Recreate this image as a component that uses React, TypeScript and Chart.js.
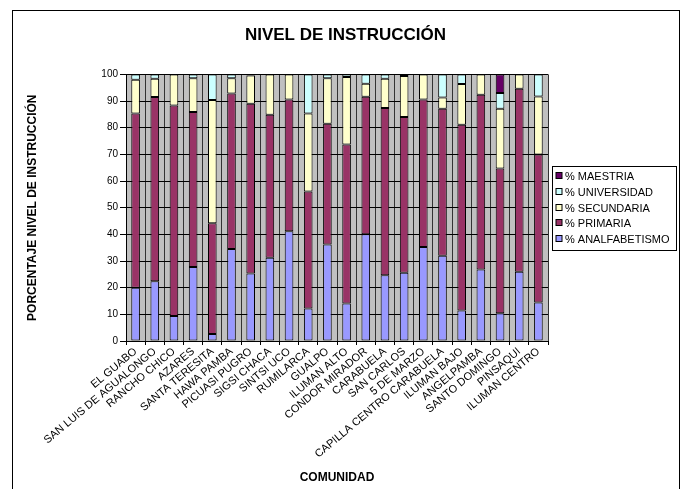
import { useEffect, useRef } from 'react';
import { Chart, registerables } from 'chart.js';

Chart.register(...registerables);

const FONT = "'Liberation Sans', Arial, Helvetica, sans-serif";

const categories = [
  'EL GUABO', 'SAN LUIS DE AGUALONGO', 'RANCHO CHICO', 'AZARES', 'SANTA TERESITA',
  'HAWA PAMBA', 'PICUASI PUGRO', 'SIGSI CHACA', 'SINTSI UCO', 'RUMILARCA', 'GUALPO',
  'ILUMAN ALTO', 'CONDOR MIRADOR', 'CARABUELA', 'SAN CARLOS', '5 DE MARZO',
  'CAPILLA CENTRO CARABUELA', 'ILUMAN BAJO', 'ANGELPAMBA', 'SANTO DOMINGO', 'PINSAQUI',
  'ILUMAN CENTRO',
];

const analfabetismo = [20, 22.4, 9.4, 27.8, 2.6, 34.5, 25.3, 31.2, 41.2, 12.2, 36.2, 14.1, 40, 24.7, 25.6, 35.3, 32, 11.4, 26.8, 10.4, 26, 14.4];
const primaria = [65.3, 69.1, 78.9, 58.1, 41.6, 58.3, 63.7, 53.7, 49.4, 43.9, 45.3, 59.6, 51.6, 62.7, 58.4, 55.3, 55.1, 69.7, 65.6, 54.3, 68.6, 55.6];
const secundaria = [12.7, 6.9, 11.7, 12.7, 46.2, 5.8, 10.6, 15.1, 9.4, 29.2, 17.1, 25.3, 4.9, 11, 15.4, 9.4, 4.2, 15.3, 7.6, 22.4, 5.4, 21.7];
const universidad = [2, 1.6, null, 1.4, 9.6, 1.4, 0.4, null, null, 14.7, 1.4, 1, 3.5, 1.6, 0.6, null, 8.7, 3.6, null, 5.9, null, 8.3];
const maestria = [null, null, null, null, null, null, null, null, null, null, null, null, null, null, null, null, null, null, null, 7, null, null];

const seriesNames = ['% ANALFABETISMO', '% PRIMARIA', '% SECUNDARIA', '% UNIVERSIDAD', '% MAESTRIA'];
const seriesColors = ['#9999FF', '#993366', '#FFFFCC', '#CCFFFF', '#660066'];
const seriesValues = [analfabetismo, primaria, secundaria, universidad, maestria];

const yMin = 0;
const yMax = 100;
const yStep = 10;

const framePlugin = {
  id: 'framePlugin',
  beforeDraw(chart: any) {
    const { ctx, chartArea } = chart;
    const { left, top, right, bottom } = chartArea;
    ctx.save();
    ctx.fillStyle = '#C0C0C0';
    ctx.fillRect(left, top, right - left, bottom - top);
    ctx.restore();
  },
  afterDraw(chart: any) {
    const { ctx, chartArea } = chart;
    ctx.save();
    // outer chart frame
    ctx.strokeStyle = '#000';
    ctx.lineWidth = 1;
    ctx.strokeRect(12.5, 10.5, chart.width - 16, chart.height + 20);

    // legend (reverse order, boxed)
    const ds = chart.data.datasets.slice().reverse();
    const rowH = 15.75;
    const boxLeft = Math.round(chartArea.right) + 4.5;
    const boxW = 124;
    const boxH = 84;
    const cy = (chartArea.top + chartArea.bottom) / 2;
    const boxTop = Math.round(cy - boxH / 2) + 0.5;
    ctx.fillStyle = '#fff';
    ctx.fillRect(boxLeft, boxTop, boxW, boxH);
    ctx.strokeStyle = '#000';
    ctx.strokeRect(boxLeft, boxTop, boxW, boxH);
    const firstY = cy - rowH * (ds.length - 1) / 2;
    ctx.font = `11px ${FONT}`;
    ctx.textBaseline = 'middle';
    ctx.textAlign = 'left';
    ds.forEach((d: any, i: number) => {
      const y = Math.round(firstY + i * rowH);
      ctx.fillStyle = d.backgroundColor;
      ctx.fillRect(boxLeft + 3.5, y - 3.5, 6, 6);
      ctx.strokeStyle = '#000';
      ctx.strokeRect(boxLeft + 3.5, y - 3.5, 6, 6);
      ctx.fillStyle = '#000';
      ctx.fillText(d.label, boxLeft + 12.5, y + 0.5);
    });
    ctx.restore();
  },
};

export default function App() {
  const ref = useRef<HTMLCanvasElement | null>(null);

  useEffect(() => {
    if (!ref.current) return;
    const chart = new Chart(ref.current, {
      type: 'bar',
      data: {
        labels: categories,
        datasets: seriesNames.map((name, i) => ({
          label: name,
          data: seriesValues[i] as any,
          backgroundColor: seriesColors[i],
          borderColor: '#000',
          borderWidth: 1,
          borderSkipped: false,
          barPercentage: 0.45,
          categoryPercentage: 1,
        })),
      },
      options: {
        responsive: false,
        animation: false,
        layout: { padding: { left: 8, right: 0, top: 0, bottom: 0 } },
        plugins: {
          legend: { display: false },
          tooltip: { enabled: false },
          title: {
            display: true,
            text: 'NIVEL DE INSTRUCCIÓN',
            color: '#000',
            font: { family: FONT, size: 17, weight: 'bold' },
            padding: { top: 25, bottom: 29 },
          },
        },
        scales: {
          x: {
            stacked: true,
            grid: { offset: true, color: '#333', lineWidth: 1, drawTicks: true, tickLength: 4, tickColor: '#000' },
            border: { color: '#000', width: 1 },
            ticks: {
              autoSkip: false,
              maxRotation: 40,
              minRotation: 40,
              padding: 0,
              color: '#000',
              font: { family: FONT, size: 11 },
            },
            title: {
              display: true,
              text: 'COMUNIDAD',
              color: '#000',
              font: { family: FONT, size: 12, weight: 'bold' },
              padding: { top: 4, bottom: 4 },
            },
            afterFit: (s: any) => { s.height = 148; },
          },
          y: {
            stacked: true,
            min: yMin,
            max: yMax,
            grid: { color: '#000', lineWidth: 1, tickLength: 6, tickColor: '#000' },
            border: { color: '#000', width: 1 },
            ticks: {
              stepSize: yStep,
              padding: 2,
              color: '#000',
              font: { family: FONT, size: 10 },
            },
            title: {
              display: true,
              text: 'PORCENTAJE NIVEL DE INSTRUCCIÓN',
              color: '#000',
              font: { family: FONT, size: 12, weight: 'bold' },
              padding: { top: 17, bottom: 4 },
            },
            afterFit: (s: any) => { s.width = 118; },
          },
          legendSpace: {
            type: 'linear',
            position: 'right',
            display: true,
            min: yMin,
            max: yMax,
            grid: { display: false, drawOnChartArea: false },
            border: { display: false },
            ticks: { display: false },
            afterFit: (s: any) => { s.width = 135; },
          },
        },
      },
      plugins: [framePlugin],
    });
    return () => chart.destroy();
  }, []);

  return (
    <div style={{ position: 'absolute', left: 0, top: 0, width: 683, height: 489, background: '#fff' }}>
      <canvas ref={ref} width={683} height={489} style={{ display: 'block' }} />
    </div>
  );
}
